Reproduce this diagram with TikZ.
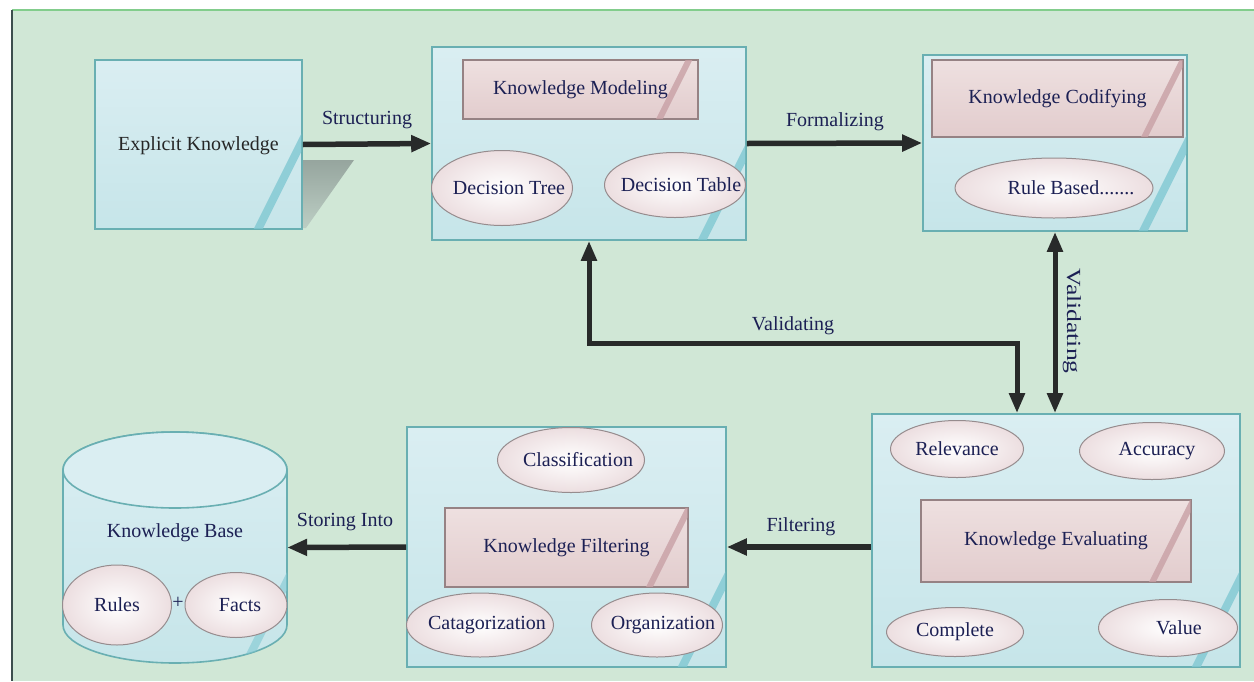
\documentclass[tikz,border=0pt]{standalone}
\usepackage{fontspec}
\setmainfont{Liberation Serif}
\usetikzlibrary{shapes.geometric,arrows.meta,calc}
\definecolor{bg}{RGB}{208,231,214}
\definecolor{boxfill}{RGB}{198,229,233}
\definecolor{boxlight}{RGB}{218,238,242}
\definecolor{boxborder}{RGB}{105,175,178}
\definecolor{pinkfill}{RGB}{226,204,205}
\definecolor{pinklight}{RGB}{238,224,224}
\definecolor{pinkborder}{RGB}{150,130,132}
\definecolor{ellfill}{RGB}{236,222,224}
\definecolor{ellborder}{RGB}{150,140,142}
\definecolor{stripec}{RGB}{128,200,210}
\definecolor{pinkstripe}{RGB}{200,160,165}
\definecolor{navy}{RGB}{28,32,84}
\definecolor{arrowc}{RGB}{40,42,42}
\definecolor{shadowtop}{RGB}{150,165,158}
\definecolor{shadowbot}{RGB}{188,206,196}
\definecolor{topline}{RGB}{130,205,140}
\definecolor{leftline}{RGB}{60,78,78}

\tikzset{
 txt/.style={font=\fontsize{20}{24}\selectfont, text=navy},
 outerbox/.style={draw=boxborder, line width=1.6pt, top color=boxlight, bottom color=boxfill, inner sep=0pt},
 innerbox/.style={txt, draw=pinkborder, line width=1.2pt, top color=pinklight, bottom color=pinkfill, inner sep=0pt},
 oval/.style={txt, ellipse, draw=ellborder, line width=1pt, inner color=white, outer color=ellfill, inner sep=0pt},
 flow/.style={draw=arrowc, line width=5.5pt, -{Triangle[length=20pt,width=16pt]}},
 flowboth/.style={draw=arrowc, line width=5pt, {Triangle[length=20pt,width=15pt]}-{Triangle[length=20pt,width=15pt]}},
 lbl/.style={txt, inner sep=1pt},
}
\newcommand{\boxstripe}[1]{%
 \begin{scope}
 \clip ($(#1.south west)+(1.5,-1.5)$) rectangle ($(#1.north east)+(-1.5,1.5)$);
 \draw[stripec, line width=8pt, opacity=0.8] ($(#1.south east)+(-50,10)$) -- ++(70,-140);
 \end{scope}}
\newcommand{\pinkstripe}[1]{%
 \begin{scope}
 \clip ($(#1.south west)+(1,-1)$) rectangle ($(#1.north east)+(-1,1)$);
 \draw[pinkstripe, line width=6pt, opacity=0.8] ($(#1.south east)+(-42,5)$) -- ++(60,-120);
 \end{scope}}
\newcommand{\sh}[2]{\makebox[0pt]{\hspace*{#1pt}#2}}

\begin{document}
\begin{tikzpicture}[x=1pt,y=-1pt]
\useasboundingbox (0,0) rectangle (1254,681);
\fill[white] (0,0) rectangle (1254,681);
\fill[bg] (12,10) rectangle (1254,681);
\draw[topline, line width=1.2pt] (12,10) -- (1254,10);
\draw[leftline, line width=2.8pt] (12,10) -- (12,681);

% shadow of explicit knowledge
\shade[top color=shadowtop, bottom color=shadowbot] (302,160) -- (354,160) -- (306,228) -- (302,228) -- cycle;

% outer boxes
\node[outerbox, minimum width=207pt, minimum height=169pt] (ek) at (198.5,144.5) {};
\node[outerbox, minimum width=314pt, minimum height=193pt] (km) at (589,143.5) {};
\node[outerbox, minimum width=264pt, minimum height=176pt] (kc) at (1055,143) {};
\node[outerbox, minimum width=368pt, minimum height=253pt] (ke) at (1056,540.5) {};
\node[outerbox, minimum width=319pt, minimum height=240pt] (kf) at (566.5,547) {};
\boxstripe{ek}
\boxstripe{km}
\boxstripe{kc}
\boxstripe{ke}
\boxstripe{kf}

\node[txt, text=black!85] (ekl) at (198.5,146) {Explicit Knowledge};

% knowledge base cylinder
\path[draw=boxborder, line width=1.6pt, top color=boxlight, bottom color=boxfill]
  (63,470) -- (63,625) arc[start angle=180, end angle=0, x radius=112, y radius=38]
  -- (287,470) arc[start angle=0, end angle=-180, x radius=112, y radius=38] -- cycle;
\begin{scope}
\clip (63,470) -- (63,625) arc[start angle=180, end angle=0, x radius=112, y radius=38] -- (287,470) -- cycle;
\draw[stripec, line width=8pt, opacity=0.6] (240,675) -- (300,555);
\end{scope}
\draw[boxborder, line width=1.6pt, fill=boxlight] (175,470) ellipse [x radius=112, y radius=38];
\node[minimum width=224pt, minimum height=155pt, inner sep=0pt] (kb) at (175,547.5) {};
\node[txt] (kbl) at (175,533) {Knowledge Base};

% inner rectangles
\node[innerbox, minimum width=235pt, minimum height=59pt] (kmi) at (580.5,89.5) {Knowledge Modeling};
\node[innerbox, minimum width=251pt, minimum height=77pt] (kci) at (1057.5,98.5) {Knowledge Codifying};
\node[innerbox, minimum width=270pt, minimum height=82pt] (kei) at (1056,541) {Knowledge Evaluating};
\node[innerbox, minimum width=243pt, minimum height=79pt] (kfi) at (566.5,547.5) {Knowledge Filtering};
\pinkstripe{kmi}
\pinkstripe{kci}
\pinkstripe{kei}
\pinkstripe{kfi}

% ellipses
\node[oval, minimum width=141pt, minimum height=75pt] (dt) at (502,188) {\sh{14}{Decision Tree}};
\node[oval, minimum width=141pt, minimum height=65pt] (dtab) at (675,185) {\sh{12}{Decision Table}};
\node[oval, minimum width=198pt, minimum height=60pt] (rb) at (1054,188) {\sh{34}{Rule Based.......}};
\node[oval, minimum width=133pt, minimum height=57pt] (rel) at (957,449) {\sh{0}{Relevance}};
\node[oval, minimum width=145pt, minimum height=57pt] (acc) at (1152,451) {\sh{10}{Accuracy}};
\node[oval, minimum width=137pt, minimum height=49pt] (com) at (955,632) {\sh{0}{Complete}};
\node[oval, minimum width=139pt, minimum height=57pt] (val) at (1168,628) {\sh{22}{Value}};
\node[oval, minimum width=147pt, minimum height=65pt] (cls) at (571,460) {\sh{14}{Classification}};
\node[oval, minimum width=147pt, minimum height=64pt] (cat) at (480,625) {\sh{14}{Catagorization}};
\node[oval, minimum width=131pt, minimum height=64pt] (org) at (657,625) {\sh{12}{Organization}};
\node[oval, minimum width=109pt, minimum height=80pt] (rul) at (117,605) {\sh{0}{Rules}};
\node[oval, minimum width=102pt, minimum height=65pt] (fac) at (236,605) {\sh{8}{Facts}};
\node[txt] (plus) at (178,603) {+};

% connectors
\draw[flow] (ek.east) -- (km.west);
\draw[flow] (km.east) -- (kc.west);
\coordinate (vb) at (1017,343);
\draw[flowboth] (km.south) |- (vb) -- (vb |- ke.north);
\draw[flowboth] (kc.south) -- (kc.south |- ke.north);
\draw[flow] (kf.east -| ke.west) -- (kf.east);
\draw[flow] (kf.west) -- (kb.east);

% labels
\node[lbl] (l1) at (367,120) {Structuring};
\node[lbl] (l2) at (835,122) {Formalizing};
\node[lbl] (l3) at (793,326) {Validating};
\node[lbl, rotate=-90] (l4) at (1072,321) {\scalebox{1.28}[1]{Validating}};
\node[lbl] (l5) at (801,527) {Filtering};
\node[lbl] (l6) at (345,522) {Storing Into};
\end{tikzpicture}
\end{document}
